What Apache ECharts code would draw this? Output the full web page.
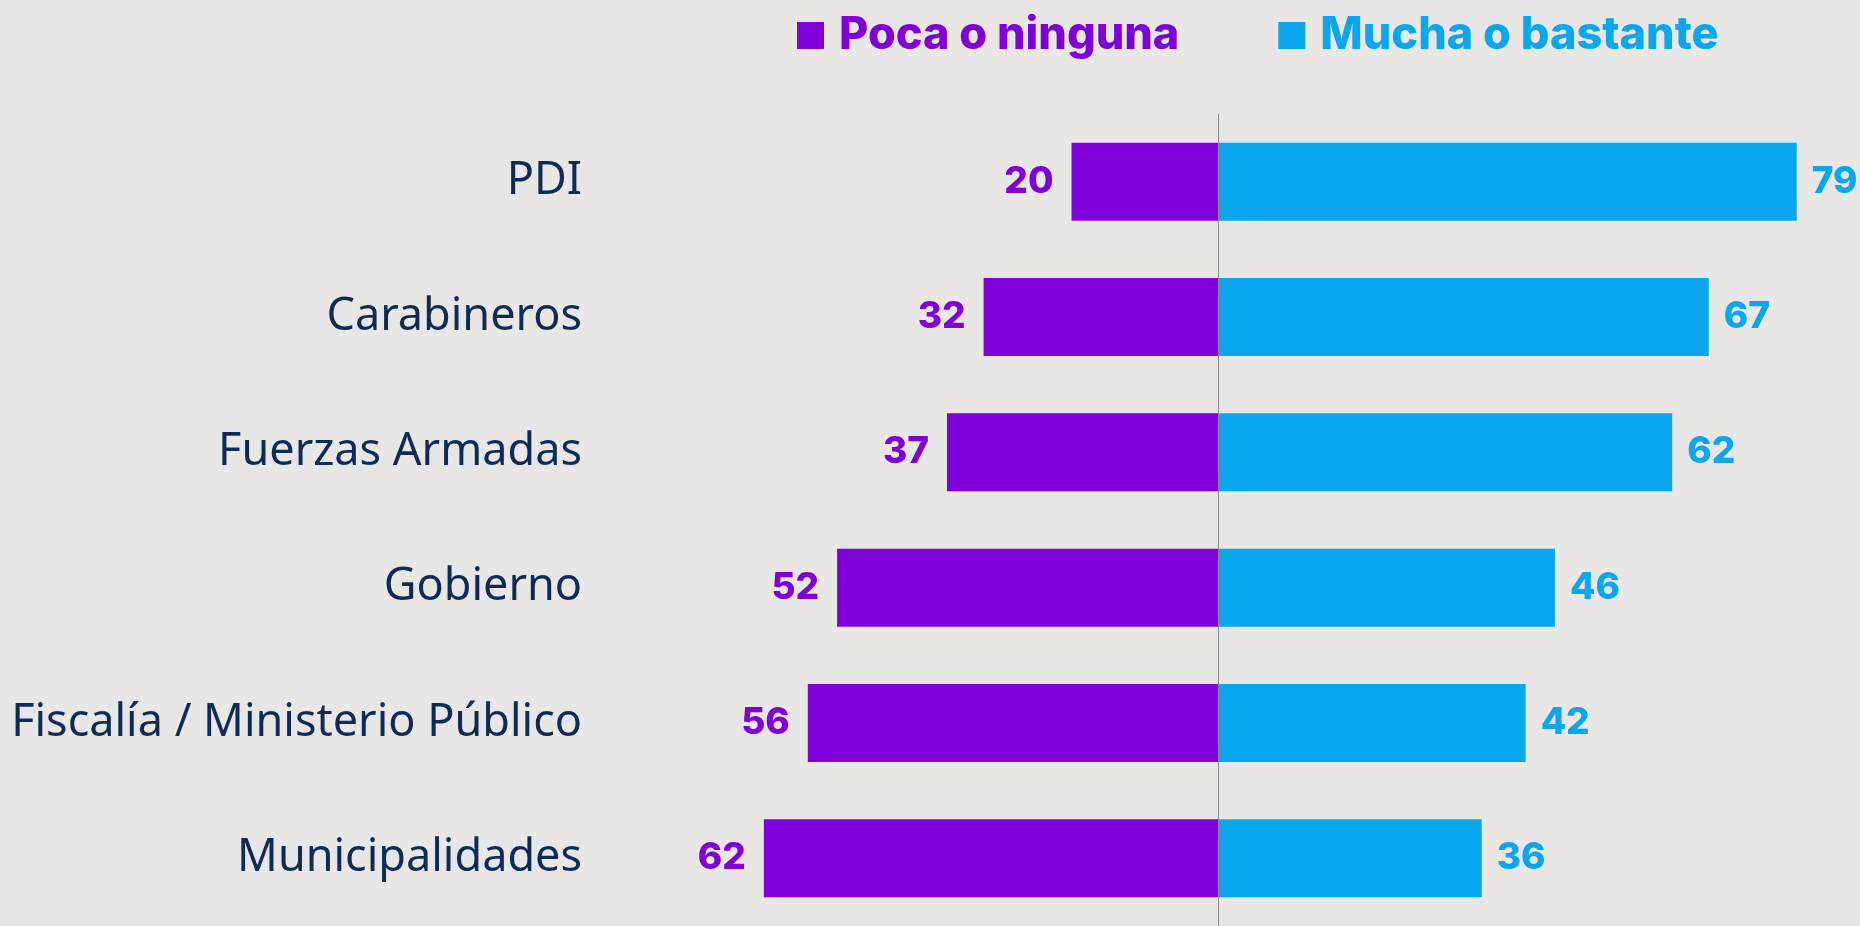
<!DOCTYPE html>
<html lang="es" style="height: 100%">
<head>
  <meta charset="utf-8">
  <style>
    html, body { height: 100%; margin: 0; background: #e8e7e5; }
    #chart { width: 1860px; height: 926px; }
  </style>
</head>
<body>
  <div id="chart"></div>
  <script src="https://cdn.jsdelivr.net/npm/echarts@6/dist/echarts.min.js"></script>
  <script>
    // categorias (de arriba a abajo)
    const categories = ['PDI', 'Carabineros', 'Fuerzas Armadas', 'Gobierno', 'Fiscalía / Ministerio Público', 'Municipalidades'];
    // Poca o ninguna
    const pocaData = [20, 32, 37, 52, 56, 62];
    // Mucha o bastante
    const muchaData = [79, 67, 62, 46, 42, 36];

    const purple = '#7f00d9';
    const blue = '#0aa6ee';
    const navy = '#0c2b57';

    var myChart = echarts.init(document.getElementById('chart'), null, { renderer: 'canvas' });

    var option = {
      backgroundColor: '#e8e7e5',
      animation: false,
      legend: {
        left: 792,
        top: 8,
        icon: 'rect',
        itemWidth: 27,
        itemHeight: 27,
        itemGap: 99,
        textStyle: {
          fontFamily: 'Inter',
          fontWeight: 800,
          fontSize: 45,
          padding: [0, 0, 0, 10]
        },
        data: [
          { name: 'Poca o ninguna', textStyle: { color: purple } },
          { name: 'Mucha o bastante', textStyle: { color: blue } }
        ]
      },
      grid: {
        left: 632,
        right: 56,
        top: 114,
        height: 817
      },
      xAxis: {
        type: 'value',
        min: -80,
        max: 80,
        show: false
      },
      yAxis: {
        type: 'category',
        inverse: true,
        data: categories,
        axisLine: { show: false, onZero: false },
        axisTick: { show: false },
        axisLabel: {
          margin: 50,
          color: navy,
          fontFamily: 'Noto Sans',
          fontSize: 45
        }
      },
      series: [
        {
          name: 'Poca o ninguna',
          type: 'bar',
          stack: 'total',
          barWidth: 78,
          itemStyle: { color: purple },
          label: {
            show: true,
            position: 'left',
            distance: 18,
            color: purple,
            fontFamily: 'Inter',
            fontWeight: 800,
            fontSize: 37,
            formatter: function (p) { return Math.abs(p.value); }
          },
          data: pocaData.map(function (v) { return -v; }),
          markLine: {
            silent: true,
            symbol: 'none',
            label: { show: false },
            lineStyle: { color: '#8a8a8a', width: 1, type: 'solid' },
            data: [{ xAxis: 0 }]
          }
        },
        {
          name: 'Mucha o bastante',
          type: 'bar',
          stack: 'total',
          barWidth: 78,
          itemStyle: { color: blue },
          label: {
            show: true,
            position: 'right',
            distance: 15,
            color: blue,
            fontFamily: 'Inter',
            fontWeight: 800,
            fontSize: 37
          },
          data: muchaData
        }
      ]
    };
    myChart.setOption(option);
    window.addEventListener('resize', myChart.resize);
  </script>
</body>
</html>
